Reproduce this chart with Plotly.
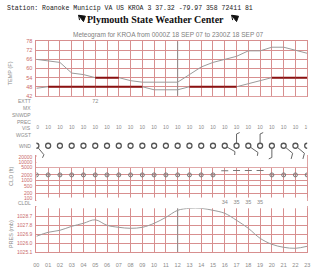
import plotly.graph_objects as go
import math

W, H = 320, 268
hours = list(range(24))
hour_labels = ["%02d" % h for h in hours]

temp = [66, 65, 64, 57, 56, 54, 54, 54, 52, 51, 51, 51, 51, 56, 61, 64, 66, 68, 71.6, 71.6, 74, 74, 72, 70]
dewp = [47, 48, 48, 48, 48, 48, 48, 48, 48, 48, 46, 46, 46, 48, 48, 48, 48, 48, 50, 52, 54, 54, 54, 54]
temp_ticks = [42, 48, 54, 60, 66, 72, 78]

extt = {5: "72"}
vis = [10] * 24
wdir = [140, 0, 0, 0, 0, 0, 0, 0, 0, 0, 0, 0, 0, 0, 0, 0, 120, 360, 125, 360, 180, 130, 130, 125]
wspd = [5, 0, 0, 0, 0, 0, 0, 0, 0, 0, 0, 0, 0, 0, 0, 0, 5, 5, 5, 5, 5, 10, 10, 10]

cld_hgt = [2000] * 16 + [3400, 3500, 3500, 3500] + [2000] * 4
cld_kind = ["clr"] * 16 + ["sct"] * 4 + ["clr"] * 4
cldl = [None] * 16 + [34, 35, 35, 35] + [None] * 4
cld_ticks = [100, 200, 500, 1000, 2000, 5000, 10000, 20000]

pres = [1026.7, 1027.1, 1027.3, 1027.7, 1028.0, 1028.35, 1027.8, 1027.6, 1027.5, 1027.6,
        1028.0, 1028.6, 1029.3, 1029.5, 1029.5, 1029.3, 1029.0, 1028.3, 1027.5, 1026.5,
        1025.9, 1025.6, 1025.5, 1025.7]
pres_ticks = [1025.1, 1026.0, 1026.9, 1027.8, 1028.7]
noon_hour = 12

GRID = "#d78f8f"
TICKC = "#c96a6a"
GRAY = "#8a8a8a"
LINE = "#9a9a9a"
DARKRED = "#8b1010"
FONT = "Liberation Sans"


def px(x):
    return x / W


def py(y):
    return 1 - y / H


XL, XR = 34, 310
xdom = [px(XL), px(XR)]

fig = go.Figure()

# darker hour line in temperature and pressure panels
fig.add_trace(go.Scatter(x=[noon_hour, noon_hour], y=[42, 78], mode="lines",
                         line=dict(color="#8c8c8c", width=1), xaxis="x", yaxis="y", hoverinfo="skip"))
fig.add_trace(go.Scatter(x=[noon_hour, noon_hour], y=[1025.1, 1029.6], mode="lines",
                         line=dict(color="#8c8c8c", width=1), xaxis="x3", yaxis="y3", hoverinfo="skip"))

# temperature / dewpoint
for series in (temp, dewp):
    fig.add_trace(go.Scatter(x=hours, y=series, mode="lines", line=dict(color=LINE, width=1),
                             xaxis="x", yaxis="y", hoverinfo="skip"))
    # segments lying on a gridline look dark red and thick
    for i in range(len(series) - 1):
        if series[i] == series[i + 1] and series[i] in temp_ticks:
            fig.add_trace(go.Scatter(x=[hours[i], hours[i + 1]], y=[series[i], series[i + 1]],
                                     mode="lines", line=dict(color=DARKRED, width=2),
                                     xaxis="x", yaxis="y", hoverinfo="skip"))

# cloud
clr_x = [h for h, k in zip(hours, cld_kind) if k == "clr"]
clr_y = [c for c, k in zip(cld_hgt, cld_kind) if k == "clr"]
sct_x = [h for h, k in zip(hours, cld_kind) if k == "sct"]
sct_y = [c for c, k in zip(cld_hgt, cld_kind) if k == "sct"]
fig.add_trace(go.Scatter(x=clr_x, y=clr_y, mode="markers",
                         marker=dict(symbol="circle-open-dot", size=4, color="#777", line=dict(width=1)),
                         xaxis="x2", yaxis="y2", hoverinfo="skip"))
fig.add_trace(go.Scatter(x=sct_x, y=sct_y, mode="markers",
                         marker=dict(symbol="line-ew", size=5, color="#777", line=dict(width=1, color="#777")),
                         xaxis="x2", yaxis="y2", hoverinfo="skip"))

# pressure
fig.add_trace(go.Scatter(x=hours, y=pres, mode="lines", line=dict(color=LINE, width=1, shape="spline"),
                         xaxis="x3", yaxis="y3", hoverinfo="skip"))

# wind row axis: 1 unit = 12 px both directions, y=0 at circle row (146 px)
WY0 = 146.0
W_TOP, W_BOT = 96.0, 168.0
UNIT = 12.0


def wy(ypx):
    return (WY0 - ypx) / UNIT


fig.add_trace(go.Scatter(x=hours, y=[0] * 24, mode="markers",
                         marker=dict(symbol="circle-open", size=5, color="#555", line=dict(width=1.3)),
                         xaxis="x4", yaxis="y4", hoverinfo="skip"))

# wind barbs
for h, d, s in zip(hours, wdir, wspd):
    if s <= 0:
        continue
    th = math.radians(d)
    sx, sy = math.sin(th), math.cos(th)
    r0 = 2.5 / UNIT
    L = 12.0 / UNIT
    xs = [h + sx * r0, h + sx * L]
    ys = [sy * r0, sy * L]
    fig.add_trace(go.Scatter(x=xs, y=ys, mode="lines", line=dict(color="#666", width=1),
                             xaxis="x4", yaxis="y4", hoverinfo="skip"))
    bl = (6.0 if s >= 10 else 3.5) / UNIT
    bt = math.radians(d + 65)
    bx, by = math.sin(bt), math.cos(bt)
    fig.add_trace(go.Scatter(x=[h + sx * L, h + sx * L + bx * bl], y=[sy * L, sy * L + by * bl],
                             mode="lines", line=dict(color="#666", width=1),
                             xaxis="x4", yaxis="y4", hoverinfo="skip"))

# VIS values
fig.add_trace(go.Scatter(x=hours, y=[wy(128)] * 24, mode="text", text=[str(v) for v in vis],
                         textfont=dict(size=5, color=GRAY, family=FONT),
                         xaxis="x4", yaxis="y4", hoverinfo="skip"))
# EXTT
fig.add_trace(go.Scatter(x=list(extt.keys()), y=[wy(100.5)] * len(extt), mode="text",
                         text=list(extt.values()), textfont=dict(size=5.5, color=GRAY, family=FONT),
                         xaxis="x4", yaxis="y4", hoverinfo="skip"))
# CLDL numbers
cx = [h for h, v in zip(hours, cldl) if v is not None]
ct = [str(v) for v in cldl if v is not None]
fig.add_trace(go.Scatter(x=cx, y=[wy(204)] * len(cx), mode="text", text=ct,
                         textfont=dict(size=5.5, color=GRAY, family=FONT),
                         xaxis="x5", yaxis="y5", hoverinfo="skip"))

common_x = dict(range=[0, 23], domain=xdom, tickvals=hours, showgrid=True, gridcolor=GRID,
                gridwidth=1, zeroline=False, showline=True, mirror=True, linecolor=GRID,
                linewidth=1, fixedrange=True)

layout = dict(
    width=W, height=H, margin=dict(l=0, r=0, t=0, b=0),
    paper_bgcolor="white", plot_bgcolor="white", showlegend=False,
    font=dict(family=FONT, size=5, color=GRAY),
    xaxis=dict(common_x, anchor="y", showticklabels=False, ticks=""),
    xaxis2=dict(common_x, anchor="y2", showticklabels=False, ticks=""),
    xaxis3=dict(common_x, anchor="y3", showticklabels=True, ticktext=hour_labels,
                ticks="outside", ticklen=7, tickcolor="rgba(0,0,0,0)",
                tickfont=dict(size=5.5, color=GRAY, family=FONT)),
    xaxis4=dict(range=[0, 23], domain=xdom, anchor="y4", visible=False, showgrid=False),
    xaxis5=dict(range=[0, 23], domain=xdom, anchor="y5", visible=False, showgrid=False),
    yaxis=dict(domain=[py(95), py(39)], range=[42, 78], anchor="x", tickvals=temp_ticks,
               showgrid=True, gridcolor=GRID, zeroline=False, showline=True, mirror=True,
               linecolor=GRID, ticks="", ticklabelstandoff=2,
               tickfont=dict(size=5.5, color=TICKC, family=FONT)),
    yaxis2=dict(domain=[py(201), py(156)], type="log", range=[1.946, 4.371], anchor="x2",
                tickvals=cld_ticks, ticktext=[str(t) for t in cld_ticks],
                showgrid=True, gridcolor=GRID, zeroline=False, showline=True, mirror=True,
                linecolor=GRID, ticks="", ticklabelstandoff=2,
                tickfont=dict(size=5, color=TICKC, family=FONT)),
    yaxis3=dict(domain=[py(255), py(209)], range=[1025.1, 1029.6], anchor="x3",
                tickvals=pres_ticks, ticktext=["%.1f" % t for t in pres_ticks],
                showgrid=True, gridcolor=GRID, zeroline=False, showline=True, mirror=True,
                linecolor=GRID, ticks="", ticklabelstandoff=2,
                tickfont=dict(size=5, color=TICKC, family=FONT)),
    yaxis4=dict(domain=[py(W_BOT), py(W_TOP)], range=[wy(W_BOT), wy(W_TOP)], anchor="x4",
                visible=False, showgrid=False),
    yaxis5=dict(domain=[py(210), py(199)], range=[wy(210), wy(199)], anchor="x5",
                visible=False, showgrid=False),
)

annotations = [
    dict(text="Station: Roanoke Municip VA US KROA 3 37.32 -79.97 358 72411 81",
         x=px(2), y=py(6), xanchor="left", yanchor="middle",
         font=dict(family="Liberation Mono", size=6.5, color="#222")),
    dict(text="<b>Plymouth State Weather Center</b>", x=px(155), y=py(16.5), xanchor="center",
         yanchor="middle", font=dict(family="Liberation Serif", size=10, color="#111")),
    dict(text="Meteogram for KROA from 0000Z 18 SEP 07 to 2300Z 18 SEP 07",
         x=px(169), y=py(32.5), xanchor="center", yanchor="middle",
         font=dict(family=FONT, size=6.5, color="#808080")),
    dict(text="TEMP (F)", x=px(8), y=py(72), textangle=-90, xanchor="center", yanchor="middle",
         font=dict(family=FONT, size=5.5, color=GRAY)),
    dict(text="CLD (ft)", x=px(8), y=py(177), textangle=-90, xanchor="center", yanchor="middle",
         font=dict(family=FONT, size=5.5, color=GRAY)),
    dict(text="PRES (mb)", x=px(7.5), y=py(236), textangle=-90, xanchor="center", yanchor="middle",
         font=dict(family=FONT, size=5.5, color=GRAY)),
]
row_labels = [("EXTT", 100.5), ("MX", 107.5), ("SNWDP", 114.5), ("PREC", 121.5),
              ("VIS", 128), ("WGST", 135), ("WND", 146), ("CLDL", 204.5)]
for t, yy in row_labels:
    annotations.append(dict(text=t, x=px(31), y=py(yy), xanchor="right", yanchor="middle",
                            font=dict(family=FONT, size=5, color=GRAY)))
for a in annotations:
    a.update(xref="paper", yref="paper", showarrow=False)
layout["annotations"] = annotations

# small black pennants beside the header
shapes = []
for (x0, y0) in [(77, 12.5), (233, 12.5)]:
    path = "M %f %f L %f %f L %f %f Z" % (px(x0), py(y0), px(x0 + 7), py(y0 + 1),
                                         px(x0 + 5), py(y0 + 6.5))
    shapes.append(dict(type="path", path=path, xref="paper", yref="paper",
                       fillcolor="#111", line=dict(color="#111", width=1)))
    shapes.append(dict(type="line", x0=px(x0), y0=py(y0), x1=px(x0 + 1), y1=py(y0 + 5),
                       xref="paper", yref="paper", line=dict(color="#111", width=1)))
layout["shapes"] = shapes

fig.update_layout(**layout)
fig.write_html("out.html")
